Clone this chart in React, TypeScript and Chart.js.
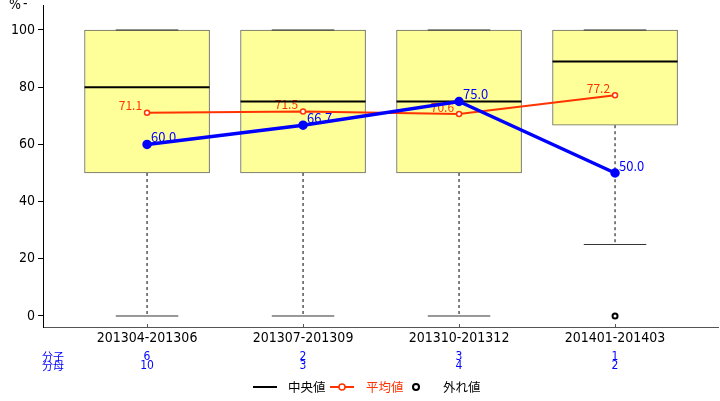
import React, { useEffect, useRef } from "react";
import { Chart, registerables } from "chart.js";

Chart.register(...registerables);

const categories = ["201304-201306", "201307-201309", "201310-201312", "201401-201403"];
const boxQ1 = [50, 50, 50, 66.7];
const boxQ3 = [100, 100, 100, 100];
const boxMedian = [80, 75, 75, 89];
const whiskerLow = [0, 0, 0, 25];
const whiskerHigh = [100, 100, 100, 100];
const outlierCategory = [3];
const outlierValues = [0];
const meanValues = [71.1, 71.5, 70.6, 77.2];
const blueValues = [60.0, 66.7, 75.0, 50.0];
const numerators = ["6", "2", "3", "1"];
const denominators = ["10", "3", "4", "2"];
const yTicks = [0, 20, 40, 60, 80, 100];

const NARROW = "'Liberation Sans Narrow', 'DejaVu Sans Condensed', 'Liberation Sans', sans-serif";
const CJK = "'Noto Sans CJK JP', 'Noto Sans', sans-serif";
const RED = "#FF3300";
const BLUE = "#0000FF";

const extrasPlugin = {
  id: "extras",
  afterDatasetDraw(chart: any, args: any) {
    if (args.index !== 0) return;
    const { ctx } = chart;
    const x = chart.scales.x;
    const y = chart.scales.y;
    const meta = chart.getDatasetMeta(0);
    const redMeta = chart.getDatasetMeta(1);
    ctx.save();
    ctx.fillStyle = RED;
    ctx.font = `12px ${CJK}`;
    ctx.textAlign = "right";
    ctx.textBaseline = "middle";
    redMeta.data.forEach((p: any, i: number) => {
      ctx.fillText(meanValues[i].toFixed(1), p.x - 5, p.y - 7);
    });
    ctx.restore();

    categories.forEach((_, i) => {
      const bar = meta.data[i];
      const half = bar.width / 2;
      const cx = x.getPixelForValue(i);
      ctx.save();
      ctx.strokeStyle = "#000";
      ctx.lineWidth = 1;
      ctx.setLineDash([3, 3]);
      ctx.beginPath();
      ctx.moveTo(cx, y.getPixelForValue(boxQ1[i]));
      ctx.lineTo(cx, y.getPixelForValue(whiskerLow[i]));
      ctx.moveTo(cx, y.getPixelForValue(boxQ3[i]));
      ctx.lineTo(cx, y.getPixelForValue(whiskerHigh[i]));
      ctx.stroke();
      ctx.setLineDash([]);
      ctx.strokeStyle = "#333";
      ctx.beginPath();
      ctx.moveTo(cx - half / 2, y.getPixelForValue(whiskerLow[i]));
      ctx.lineTo(cx + half / 2, y.getPixelForValue(whiskerLow[i]));
      ctx.moveTo(cx - half / 2, y.getPixelForValue(whiskerHigh[i]));
      ctx.lineTo(cx + half / 2, y.getPixelForValue(whiskerHigh[i]));
      ctx.stroke();
      ctx.strokeStyle = "#000";
      ctx.lineWidth = 2;
      ctx.beginPath();
      ctx.moveTo(cx - half, y.getPixelForValue(boxMedian[i]));
      ctx.lineTo(cx + half, y.getPixelForValue(boxMedian[i]));
      ctx.stroke();
      ctx.restore();
    });
  },
  afterDatasetsDraw(chart: any) {
    const { ctx } = chart;
    const x = chart.scales.x;
    const blueMeta = chart.getDatasetMeta(2);
    ctx.save();
    ctx.fillStyle = BLUE;
    ctx.font = `13px ${CJK}`;
    ctx.textAlign = "left";
    ctx.textBaseline = "middle";
    blueMeta.data.forEach((p: any, i: number) => {
      ctx.fillText(blueValues[i].toFixed(1), p.x + 4, p.y - 7);
    });

    // small inward x ticks
    ctx.strokeStyle = "#555";
    ctx.lineWidth = 1;
    const axisY = chart.chartArea.bottom;
    categories.forEach((_, i) => {
      const cx = Math.round(x.getPixelForValue(i)) + 0.5;
      ctx.beginPath();
      ctx.moveTo(cx, axisY - 3);
      ctx.lineTo(cx, axisY);
      ctx.stroke();
    });

    ctx.font = `11px ${CJK}`;
    ctx.fillText("分子", 42, 357);
    ctx.fillText("分母", 42, 366);
    ctx.font = `12px ${NARROW}`;
    ctx.textAlign = "center";
    categories.forEach((_, i) => {
      const cx = x.getPixelForValue(i);
      ctx.fillText(numerators[i], cx, 357);
      ctx.fillText(denominators[i], cx, 366);
    });

    ctx.fillStyle = "#000";
    ctx.textAlign = "left";
    ctx.font = `14px ${NARROW}`;
    ctx.fillText("%", 9, 5);
    ctx.fillText("-", 23, 4);

    const ly = 387;
    ctx.strokeStyle = "#000";
    ctx.lineWidth = 2;
    ctx.beginPath();
    ctx.moveTo(253, ly);
    ctx.lineTo(277, ly);
    ctx.stroke();
    ctx.font = `12.5px ${CJK}`;
    ctx.fillStyle = "#000";
    ctx.fillText("中央値", 288, ly);
    ctx.strokeStyle = RED;
    ctx.beginPath();
    ctx.moveTo(330, ly);
    ctx.lineTo(354, ly);
    ctx.stroke();
    ctx.fillStyle = "#fff";
    ctx.lineWidth = 1.5;
    ctx.beginPath();
    ctx.arc(342, ly, 3, 0, Math.PI * 2);
    ctx.fill();
    ctx.stroke();
    ctx.fillStyle = RED;
    ctx.fillText("平均値", 366, ly);
    ctx.strokeStyle = "#000";
    ctx.lineWidth = 2;
    ctx.fillStyle = "#fff";
    ctx.beginPath();
    ctx.arc(416, ly, 3, 0, Math.PI * 2);
    ctx.fill();
    ctx.stroke();
    ctx.fillStyle = "#000";
    ctx.fillText("外れ値", 443, ly);
    ctx.restore();
  },
};

export default function App() {
  const ref = useRef<HTMLCanvasElement | null>(null);
  useEffect(() => {
    if (!ref.current) return;
    const chart = new Chart(ref.current, {
      type: "bar",
      data: {
        datasets: [
          {
            type: "bar",
            label: "box",
            data: categories.map((_, i) => ({ x: i, y: [boxQ1[i], boxQ3[i]] })) as any,
            backgroundColor: "#FFFF99",
            borderColor: "#666",
            borderWidth: 1,
            borderSkipped: false,
            barThickness: 125,
            order: 3,
          } as any,
          {
            type: "line",
            label: "平均値",
            data: meanValues.map((v, i) => ({ x: i, y: v })),
            borderColor: RED,
            borderWidth: 2,
            pointRadius: 2.5,
            pointBackgroundColor: "#fff",
            pointBorderColor: RED,
            pointBorderWidth: 1.5,
            order: 2,
          } as any,
          {
            type: "line",
            label: "blue",
            data: blueValues.map((v, i) => ({ x: i, y: v })),
            borderColor: BLUE,
            borderWidth: 3.5,
            pointRadius: 3,
            pointBackgroundColor: BLUE,
            pointBorderColor: BLUE,
            order: 1,
          } as any,
          {
            type: "scatter",
            label: "外れ値",
            data: outlierCategory.map((c, i) => ({ x: c, y: outlierValues[i] })),
            pointRadius: 2.5,
            borderColor: "#000",
            backgroundColor: "#fff",
            borderWidth: 2,
            order: 2,
          } as any,
        ],
      },
      options: {
        responsive: false,
        animation: false,
        layout: { autoPadding: false, padding: { top: 5, right: 2, left: 0, bottom: 0 } },
        plugins: { legend: { display: false }, tooltip: { enabled: false } },
        scales: {
          x: {
            type: "linear",
            offset: false,
            min: -0.667,
            max: 3.66,
            afterBuildTicks: (s: any) => {
              s.ticks = categories.map((_, i) => ({ value: i }));
            },
            afterFit: (s: any) => {
              s.height = 74;
              s.paddingLeft = 0;
              s.paddingRight = 0;
            },
            ticks: {
              callback: (v: any) => categories[Math.round(Number(v))],
              font: { size: 14, family: NARROW },
              color: "#000",
              padding: 3,
              autoSkip: false,
              maxRotation: 0,
            },
            grid: { display: false, drawTicks: false },
            border: { display: true, color: "#555", width: 1 },
          },
          y: {
            type: "linear",
            min: -3.85,
            max: 108.74,
            afterBuildTicks: (s: any) => {
              s.ticks = yTicks.map((v) => ({ value: v }));
            },
            afterFit: (s: any) => {
              s.width = 43;
              s.paddingTop = 0;
              s.paddingBottom = 0;
            },
            ticks: {
              font: { size: 14, family: NARROW },
              color: "#000",
              padding: 3,
            },
            grid: { drawOnChartArea: false, drawTicks: true, tickLength: 5, color: "#000" },
            border: { display: true, color: "#000", width: 1 },
          },
        },
      } as any,
      plugins: [extrasPlugin as any],
    });
    return () => chart.destroy();
  }, []);
  return (
    <div style={{ position: "absolute", left: 0, top: 0, width: 720, height: 401, background: "#fff" }}>
      <canvas ref={ref} width={720} height={401} />
    </div>
  );
}
